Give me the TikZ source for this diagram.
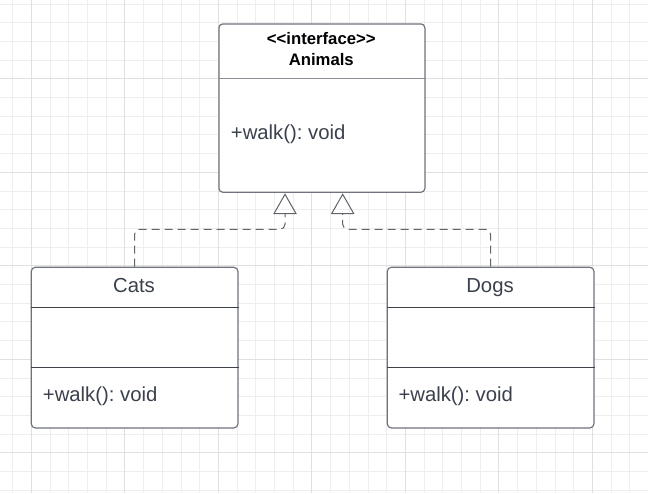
\documentclass[tikz,border=0pt]{standalone}
\usepackage{fontspec}
\newfontfamily\lsans{Liberation Sans}
\usetikzlibrary{arrows.meta}
\definecolor{gridminor}{HTML}{EEEEEE}
\definecolor{gridmajor}{HTML}{E0E0E0}
\definecolor{boxline}{HTML}{6E737C}
\definecolor{divlight}{HTML}{8A8E95}
\definecolor{divdark}{HTML}{3D4249}
\definecolor{txt}{HTML}{3A414D}
\definecolor{conncol}{HTML}{60656C}
\frenchspacing
\begin{document}
\begin{tikzpicture}[x=1pt,y=-1pt,
  umlbox/.style={draw=boxline, fill=white, line width=1.2pt, rounded corners=4pt, inner sep=0pt, anchor=north west},
  divlightline/.style={draw=divlight, line width=1.5pt},
  divdarkline/.style={draw=divdark, line width=1pt},
  bodytext/.style={font=\lsans\fontsize{20.3}{24}\selectfont, text=txt, inner sep=0pt},
  headtext/.style={font=\lsans\bfseries\fontsize{16.7}{20}\selectfont, text=black, inner sep=0pt, anchor=base},
  conn/.style={draw=conncol, line width=1pt, dash pattern=on 8pt off 5pt, rounded corners=5pt,
    -{Triangle[open, length=20.7pt, width=23.4pt, line width=1pt]}}
]
\useasboundingbox (0,0) rectangle (648,493);
\fill[white] (0,0) rectangle (648,493);
% grid
\foreach \k in {0,...,34} {
  \pgfmathsetmacro\xx{12.7+18.7*\k}
  \draw[gridminor, line width=1pt] (\xx,0) -- (\xx,493);
}
\foreach \k in {0,...,26} {
  \pgfmathsetmacro\yy{4+18.7*\k}
  \draw[gridminor, line width=1pt] (0,\yy) -- (648,\yy);
}
\foreach \k in {1,6,...,31} {
  \pgfmathsetmacro\xx{12.7+18.7*\k}
  \draw[gridmajor, line width=1.1pt] (\xx,0) -- (\xx,493);
}
\foreach \k in {4,9,...,24} {
  \pgfmathsetmacro\yy{4+18.7*\k}
  \draw[gridmajor, line width=1.1pt] (0,\yy) -- (648,\yy);
}

% interface box
\node[umlbox, minimum width=206pt, minimum height=168.4pt] (animals) at (218.3,23.3) {};
\draw[divlightline] ([yshift=-55pt]animals.north west) -- ([yshift=-55pt]animals.north east);
\node[headtext] (iface) at (321.3,44.3) {<<interface>>};
\node[headtext] (aname) at (321.3,65.7) {Animals};
\node[bodytext, anchor=base west] (awalk) at (230.7,139) {+walk(): void};

% Cats
\node[umlbox, minimum width=206.6pt, minimum height=160.6pt] (cats) at (30.7,266.7) {};
\draw[divdarkline] ([yshift=-40.6pt]cats.north west) -- ([yshift=-40.6pt]cats.north east);
\draw[divdarkline] ([yshift=-100.6pt]cats.north west) -- ([yshift=-100.6pt]cats.north east);
\node[bodytext, anchor=base] (cname) at (134,292.3) {Cats};
\node[bodytext, anchor=base west] (cwalk) at (42.7,401.7) {+walk(): void};

% Dogs
\node[umlbox, minimum width=206.6pt, minimum height=160.6pt] (dogs) at (386.7,266.7) {};
\draw[divdarkline] ([yshift=-40.6pt]dogs.north west) -- ([yshift=-40.6pt]dogs.north east);
\draw[divdarkline] ([yshift=-100.6pt]dogs.north west) -- ([yshift=-100.6pt]dogs.north east);
\node[bodytext, anchor=base] (dname) at (490,292.3) {Dogs};
\node[bodytext, anchor=base west] (dwalk) at (398.3,401.7) {+walk(): void};

% connectors
\coordinate (tipL) at (285,193.3);
\coordinate (bendL) at (285,229.3);
\coordinate (tipR) at (342.7,193.3);
\coordinate (bendR) at (342.7,229.3);
\draw[conn] (cats.north) |- (bendL) -- (tipL);
\draw[conn] (dogs.north) |- (bendR) -- (tipR);
\end{tikzpicture}
\end{document}
